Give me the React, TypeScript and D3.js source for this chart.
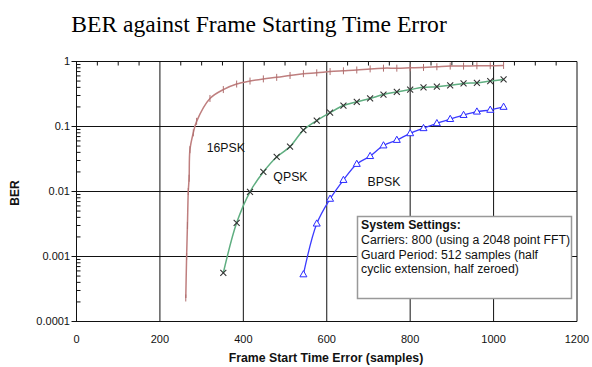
import React from "react";
import * as d3 from "d3";

// --- data ---
const psk16X = [262, 264, 266, 268, 270, 272, 280, 288, 320, 352, 384, 416, 448, 480, 512, 544, 576, 608, 640, 672, 704, 736, 768, 800, 832, 864, 896, 928, 960, 992, 1024];
const psk16Y = [0.00023, 0.001, 0.003, 0.01, 0.016, 0.044, 0.08, 0.12, 0.27, 0.37, 0.45, 0.5, 0.54, 0.57, 0.61, 0.65, 0.67, 0.7, 0.72, 0.74, 0.77, 0.79, 0.79, 0.8, 0.81, 0.83, 0.85, 0.85, 0.86, 0.86, 0.87];

const qpskX = [352, 384, 416, 448, 480, 512, 544, 576, 608, 640, 672, 704, 736, 768, 800, 832, 864, 896, 928, 960, 992, 1024];
const qpskY = [0.00056, 0.0033, 0.0099, 0.02, 0.034, 0.049, 0.088, 0.123, 0.163, 0.21, 0.24, 0.27, 0.31, 0.34, 0.37, 0.4, 0.41, 0.43, 0.46, 0.47, 0.5, 0.53];

const bpskX = [544, 576, 608, 640, 672, 704, 736, 768, 800, 832, 864, 896, 928, 960, 992, 1024];
const bpskY = [0.00053, 0.0032, 0.0077, 0.015, 0.0265, 0.035, 0.051, 0.062, 0.0785, 0.094, 0.112, 0.13, 0.15, 0.169, 0.18, 0.2];

const xTicks = [0, 200, 400, 600, 800, 1000, 1200];
const yTicks = [1, 0.1, 0.01, 0.001, 0.0001];
const yTickLabels = ["1", "0.1", "0.01", "0.001", "0.0001"];

const seriesNames = ["16PSK", "QPSK", "BPSK"];
const seriesLabelX = [312, 472, 698];
const seriesLabelY = [0.04, 0.0145, 0.0122];

const noteLines = [
    "Carriers: 800 (using a 2048 point FFT)",
    "Guard Period: 512 samples (half",
    "cyclic extension, half zeroed)",
];

const W = 592;
const H = 367;
const sans = "'Liberation Sans', Arial, sans-serif";

export default function App() {
    const x = d3.scaleLinear().domain([0, 1200]).range([76.5, 577]);
    const y = d3.scaleLog().domain([0.0001, 1]).range([321.5, 61.5]);

    const line = d3.line<[number, number]>()
        .x((d) => x(d[0]))
        .y((d) => y(d[1]))
        .curve(d3.curveCatmullRom.alpha(0.5));

    const zip = (xs: number[], ys: number[]) => xs.map((v, i) => [v, ys[i]] as [number, number]);
    const red = zip(psk16X, psk16Y);
    const green = zip(qpskX, qpskY);
    const blue = zip(bpskX, bpskY);

    // log minor ticks 2..9 per decade
    const minorY: number[] = [];
    for (let e = -4; e < 0; e++) {
        for (let k = 2; k <= 9; k++) minorY.push(k * Math.pow(10, e));
    }
    const minorX = d3.range(50, 1200, 50).filter((v) => v % 200 !== 0);

    const [x0, x1] = x.range();
    const [yb, yt] = y.range();

    return (
        <svg width={W} height={H} style={{ position: "absolute", left: 0, top: 0, background: "#fff" }}>
            <text x={259} y={32} textAnchor="middle" fontFamily="'Liberation Serif', 'Times New Roman', serif" fontSize={23.6} fill="#000">
                BER against Frame Starting Time Error
            </text>

            {/* grid */}
            {yTicks.map((t) => (
                <line key={"gy" + t} x1={x0 - 5} x2={x1} y1={y(t)} y2={y(t)} stroke="#111" strokeWidth={1} />
            ))}
            {xTicks.map((t) => (
                <line key={"gx" + t} x1={x(t)} x2={x(t)} y1={yt} y2={yb} stroke="#111" strokeWidth={1} />
            ))}
            {minorY.map((t) => (
                <line key={"my" + t} x1={x0} x2={x0 + 4} y1={y(t)} y2={y(t)} stroke="#111" strokeWidth={1} />
            ))}
            {minorX.map((t) => (
                <line key={"mx" + t} x1={x(t)} x2={x(t)} y1={yt} y2={yt + 4} stroke="#111" strokeWidth={1} />
            ))}

            {/* axis labels */}
            {yTicks.map((t, i) => (
                <text key={"ly" + t} x={70} y={y(t)} dy="0.36em" textAnchor="end" fontFamily={sans} fontSize={11} fill="#111">
                    {yTickLabels[i]}
                </text>
            ))}
            {xTicks.map((t) => (
                <text key={"lx" + t} x={x(t)} y={343} textAnchor="middle" fontFamily={sans} fontSize={11} fill="#111">
                    {t}
                </text>
            ))}
            <text x={326} y={362} textAnchor="middle" fontFamily={sans} fontSize={12.3} fontWeight="bold" fill="#111">
                Frame Start Time Error (samples)
            </text>
            <text transform={`translate(19,193) rotate(-90)`} textAnchor="middle" fontFamily={sans} fontSize={12} fontWeight="bold" fill="#111">
                BER
            </text>

            {/* 16PSK */}
            <path d={line(red) || ""} fill="none" stroke="#bf7f7f" strokeWidth={1.5} />
            {red.map((d, i) => (
                <line key={"r" + i} x1={x(d[0])} x2={x(d[0])} y1={y(d[1]) - 3.5} y2={y(d[1]) + 3.5} stroke="#b07070" strokeWidth={1} />
            ))}

            {/* QPSK */}
            <path d={line(green) || ""} fill="none" stroke="#5fae80" strokeWidth={1.5} />
            {green.map((d, i) => {
                const cx = x(d[0]);
                const cy = y(d[1]);
                return (
                    <path key={"g" + i} d={`M${cx - 3},${cy - 3}L${cx + 3},${cy + 3}M${cx - 3},${cy + 3}L${cx + 3},${cy - 3}`} stroke="#333" strokeWidth={1.1} fill="none" />
                );
            })}

            {/* BPSK */}
            <path d={line(blue) || ""} fill="none" stroke="#3b3bff" strokeWidth={1.3} />
            {blue.map((d, i) => {
                const cx = x(d[0]);
                const cy = y(d[1]);
                return (
                    <path key={"b" + i} d={`M${cx},${cy - 3.8}L${cx + 3.5},${cy + 2.4}L${cx - 3.5},${cy + 2.4}Z`} stroke="#2a2aff" strokeWidth={1} fill="#fff" />
                );
            })}

            {/* series labels */}
            {seriesNames.map((n, i) => (
                <text key={n} x={x(seriesLabelX[i])} y={y(seriesLabelY[i])} fontFamily={sans} fontSize={12.3} fill="#111">
                    {n}
                </text>
            ))}

            {/* note box */}
            <rect x={357.5} y={216.5} width={214} height={82} fill="#fff" stroke="#999" strokeWidth={1.5} />
            <text x={361} y={228.5} fontFamily={sans} fontSize={12.3} fontWeight="bold" fill="#111">
                System Settings:
            </text>
            {noteLines.map((l, i) => (
                <text key={l} x={361} y={244 + i * 14.7} fontFamily={sans} fontSize={12.3} fill="#111">
                    {l}
                </text>
            ))}
        </svg>
    );
}
